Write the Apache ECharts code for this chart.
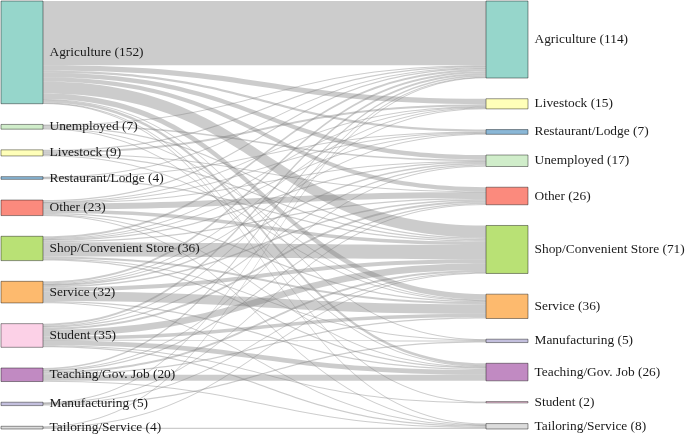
<!DOCTYPE html>
<html>
<head>
<meta charset="utf-8">
<script src="https://cdn.jsdelivr.net/npm/echarts@6/dist/echarts.min.js"></script>
<style>html,body{margin:0;padding:0;background:#fff}#chart{width:685px;height:436px}</style>
</head>
<body>
<div id="chart"></div>
<script>
// Left (before) categories, top to bottom
const leftCategories = ["Agriculture","Unemployed","Livestock","Restaurant/Lodge","Other","Shop/Convenient Store","Service","Student","Teaching/Gov. Job","Manufacturing","Tailoring/Service"];
// Right (after) categories, top to bottom
const rightCategories = ["Agriculture","Livestock","Restaurant/Lodge","Unemployed","Other","Shop/Convenient Store","Service","Manufacturing","Teaching/Gov. Job","Student","Tailoring/Service"];

// Flows from each left category to right categories (in rightCategories order)
const fromAgriculture   = [95, 8, 3, 7, 6, 18, 8, 1, 4, 1, 1];
const fromUnemployed    = [1, 0, 0, 2, 0, 2, 1, 0, 1, 0, 0];
const fromLivestock     = [2, 3, 0, 0, 1, 2, 1, 0, 0, 0, 0];
const fromRestaurant    = [1, 0, 1, 0, 0, 2, 0, 0, 0, 0, 0];
const fromOther         = [2, 1, 1, 1, 9, 5, 2, 0, 1, 0, 1];
const fromShop          = [3, 1, 1, 2, 2, 21, 3, 1, 2, 0, 0];
const fromService       = [3, 1, 1, 2, 2, 6, 14, 0, 2, 0, 1];
const fromStudent       = [3, 1, 0, 2, 3, 10, 5, 1, 7, 1, 2];
const fromTeaching      = [2, 0, 0, 1, 2, 3, 2, 0, 9, 0, 1];
const fromManufacturing = [1, 0, 0, 0, 1, 1, 0, 2, 0, 0, 0];
const fromTailoring     = [1, 0, 0, 0, 0, 1, 0, 0, 0, 0, 2];
const flowRows = [fromAgriculture, fromUnemployed, fromLivestock, fromRestaurant, fromOther, fromShop, fromService, fromStudent, fromTeaching, fromManufacturing, fromTailoring];

// Styles
const colorMap = {
  "Agriculture":"#8dd3c7","Livestock":"#ffffb3","Restaurant/Lodge":"#80b1d3","Unemployed":"#ccebc5",
  "Other":"#fb8072","Shop/Convenient Store":"#b3de69","Service":"#fdb462","Student":"#fccde5",
  "Teaching/Gov. Job":"#bc80bd","Manufacturing":"#bebada","Tailoring/Service":"#d9d9d9"
};

const nodes = [];
leftCategories.forEach(c => nodes.push({name: "L:" + c, depth: 0, itemStyle: {color: colorMap[c]}}));
rightCategories.forEach(c => nodes.push({name: "R:" + c, depth: 1, itemStyle: {color: colorMap[c]}}));
const links = [];
flowRows.forEach((row, i) => row.forEach((v, j) => {
  if (v > 0) links.push({source: "L:" + leftCategories[i], target: "R:" + rightCategories[j], value: v});
}));

const chart = echarts.init(document.getElementById('chart'), null, {renderer: 'canvas'});
chart.setOption({
  animation: false,
  series: [{
    type: 'sankey',
    left: 1, top: 1, right: 157, bottom: 7,
    nodeWidth: 42,
    nodeGap: 20.7,
    layoutIterations: 0,
    nodeAlign: 'justify',
    draggable: false,
    emphasis: {disabled: true},
    data: nodes,
    links: links,
    itemStyle: {borderColor: 'rgba(0,0,0,0.45)', borderWidth: 1, opacity: 0.92},
    lineStyle: {color: '#808080', opacity: 0.4, curveness: 0.5},
    label: {
      show: true, position: 'right', distance: 6,
      fontFamily: 'Liberation Serif', fontSize: 13.4, color: '#1a1a1a',
      formatter: p => p.name.slice(2) + ' (' + p.value + ')'
    }
  }]
});
</script>
</body>
</html>
